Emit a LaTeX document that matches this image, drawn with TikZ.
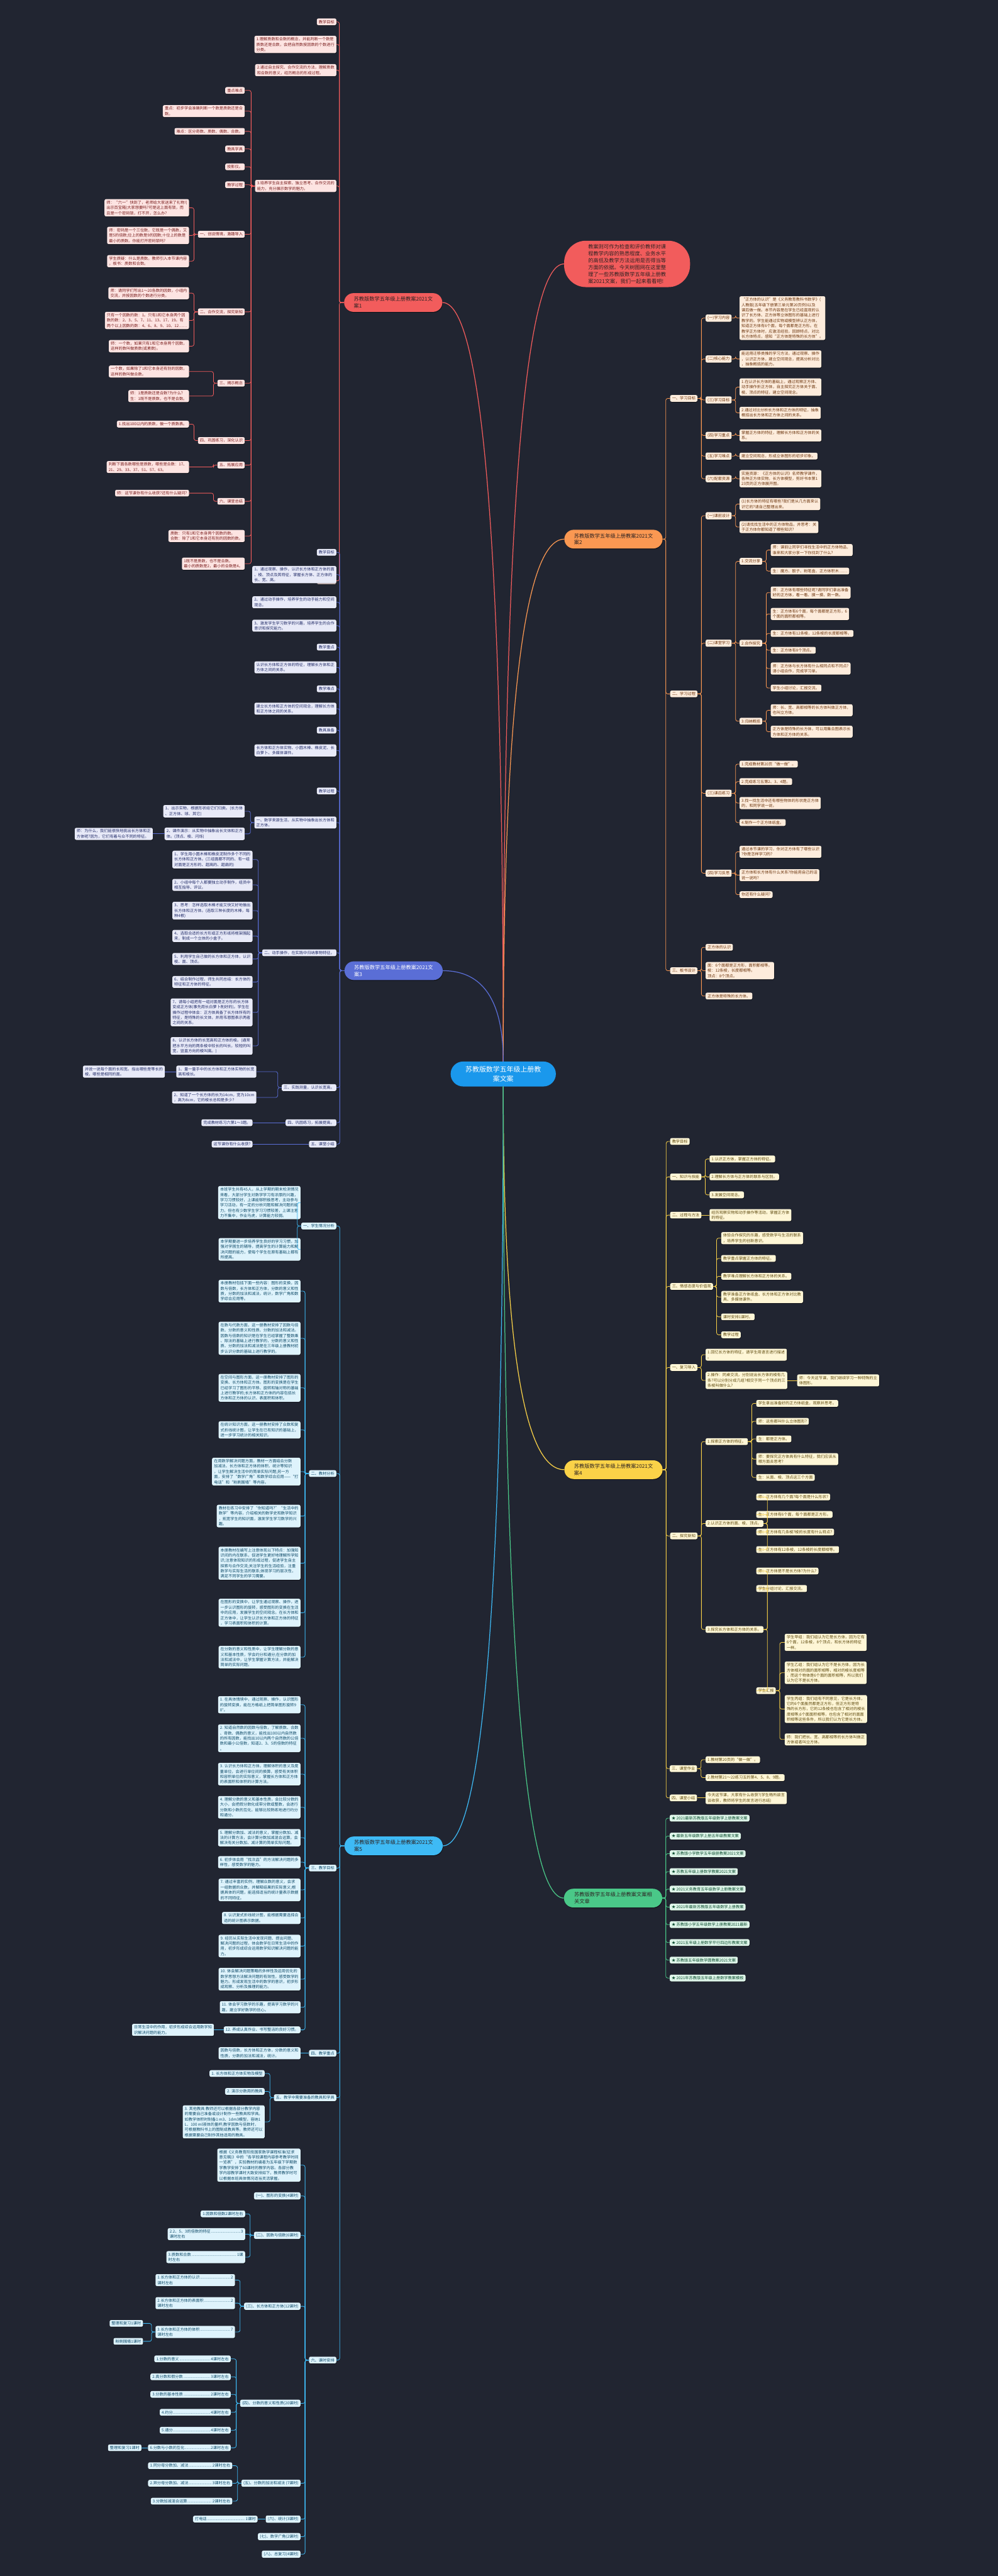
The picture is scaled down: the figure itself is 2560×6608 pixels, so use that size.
\documentclass[tikz,border=0pt]{standalone}
\usepackage{fontspec}
\setmainfont{Noto Sans CJK SC}
\usetikzlibrary{calc,shadows}
\definecolor{cbg}{RGB}{33,37,49}
\definecolor{croot}{RGB}{26,152,236}
\definecolor{cred}{RGB}{242,92,92}
\definecolor{cora}{RGB}{250,152,82}
\definecolor{cpur}{RGB}{90,110,214}
\definecolor{cyel}{RGB}{250,210,72}
\definecolor{cblu}{RGB}{62,186,245}
\definecolor{cgrn}{RGB}{74,200,136}
\definecolor{fred}{RGB}{253,228,226}
\definecolor{fora}{RGB}{253,236,220}
\definecolor{fpur}{RGB}{232,234,248}
\definecolor{fyel}{RGB}{254,246,214}
\definecolor{fblu}{RGB}{222,243,252}
\definecolor{fgrn}{RGB}{222,245,233}
\definecolor{tred}{RGB}{122,30,30}
\definecolor{tora}{RGB}{110,55,15}
\definecolor{tpur}{RGB}{35,45,105}
\definecolor{tyel}{RGB}{95,75,15}
\definecolor{tblu}{RGB}{15,75,105}
\definecolor{tgrn}{RGB}{15,80,50}
\definecolor{tdark}{RGB}{45,35,35}
\newcommand{\dl}[1]{\leaders\hbox to 2.6pt{\hss.\hss}\hskip#1pt\relax}

\begin{document}
\begin{tikzpicture}[x=1pt,y=-1pt,
  leaf/.style={rectangle,rounded corners=4pt,inner xsep=5pt,inner ysep=4pt,align=left,font=\fontsize{10}{13.5}\selectfont,
    drop shadow={shadow xshift=1pt,shadow yshift=-1.5pt,fill=black,opacity=.45}},
  lr/.style={leaf,anchor=east,fill=fred,text=tred},
  lo/.style={leaf,anchor=west,fill=fora,text=tora},
  lp/.style={leaf,anchor=east,fill=fpur,text=tpur},
  ly/.style={leaf,anchor=west,fill=fyel,text=tyel},
  lb/.style={leaf,anchor=east,fill=fblu,text=tblu},
  lg/.style={leaf,anchor=west,fill=fgrn,text=tgrn},
  brn/.style={rectangle,rounded corners=24pt,minimum width=252pt,minimum height=48pt,inner sep=0pt,align=left,text=tdark,font=\fontsize{13.3}{17.5}\selectfont,
    drop shadow={shadow xshift=1pt,shadow yshift=-2pt,fill=black,opacity=.45}},
  kr/.style={draw=cred,line width=1.3pt,rounded corners=5pt},
  ko/.style={draw=cora,line width=1.3pt,rounded corners=5pt},
  kp/.style={draw=cpur,line width=1.3pt,rounded corners=5pt},
  ky/.style={draw=cyel,line width=1.3pt,rounded corners=5pt},
  kb/.style={draw=cblu,line width=1.3pt,rounded corners=5pt},
  kg/.style={draw=cgrn,line width=1.3pt,rounded corners=5pt},
]
\fill[cbg] (0,0) rectangle (2560,6608);
\useasboundingbox (0,0) rectangle (2560,6608);

% --- centre and main branches ---
\node[fill=croot,text=white,rounded corners=32pt,minimum width=270pt,minimum height=64pt,align=center,font=\fontsize{17.6}{23.3}\selectfont] (root) at (1291,2755) {苏教版数学五年级上册教\\案文案};
\node[brn,fill=cred,anchor=east] (red) at (1135,776) {苏教版数学五年级上册教案2021文\\案1};
\node[brn,fill=cora,anchor=east] (ora) at (1700,1383) {苏教版数学五年级上册教案2021文\\案2};
\node[brn,fill=cpur,text=white,anchor=east] (pur) at (1136,2490) {苏教版数学五年级上册教案2021文\\案3};
\node[brn,fill=cyel,anchor=east] (yel) at (1700,3770) {苏教版数学五年级上册教案2021文\\案4};
\node[brn,fill=cblu,anchor=east] (blu) at (1136,4735) {苏教版数学五年级上册教案2021文\\案5};
\node[brn,fill=cgrn,anchor=east] (grn) at (1699,4869) {苏教版数学五年级上册教案文案相\\关文章};
\node[rectangle,rounded corners=56pt,minimum width=323pt,minimum height=119pt,inner sep=0pt,align=left,fill=cred,text=tdark,font=\fontsize{13.3}{17.8}\selectfont,anchor=west] (tip) at (1447,677) {教案则可作为检查和评价教师对课\\程教学内容的熟悉程度、业务水平\\的高低及教学方法运用是否得当等\\方面的依据。今天树图网在这里整\\理了一些苏教版数学五年级上册教\\案2021文案，我们一起来看看吧!};

\coordinate (cR) at (root.north |- red.east);
\coordinate (cT) at (root.north |- tip.west);
\coordinate (cO) at (root.north |- ora.west);
\coordinate (cP) at (root.north |- pur.east);
\coordinate (cY) at (root.south |- yel.west);
\coordinate (cB) at (root.south |- blu.east);
\coordinate (cG) at (root.south |- grn.west);
\draw[kr,line width=2pt] (root.north) .. controls ($(root.north)!.667!(cR)$) and ($(red.east)!.667!(cR)$) .. (red.east);
\draw[kr,line width=2pt] (root.north) .. controls ($(root.north)!.667!(cT)$) and ($(tip.west)!.667!(cT)$) .. (tip.west);
\draw[ko,line width=2pt] (root.north) .. controls ($(root.north)!.667!(cO)$) and ($(ora.west)!.667!(cO)$) .. (ora.west);
\draw[kp,line width=2pt] (root.north) .. controls ($(root.north)!.667!(cP)$) and ($(pur.east)!.667!(cP)$) .. (pur.east);
\draw[ky,line width=2pt] (root.south) .. controls ($(root.south)!.667!(cY)$) and ($(yel.west)!.667!(cY)$) .. (yel.west);
\draw[kb,line width=2pt] (root.south) .. controls ($(root.south)!.667!(cB)$) and ($(blu.east)!.667!(cB)$) .. (blu.east);
\draw[kg,line width=2pt] (root.south) .. controls ($(root.south)!.667!(cG)$) and ($(grn.west)!.667!(cG)$) .. (grn.west);

% --- 案1 ---
\node[lr] (r1) at (863,56) {教学目标};
\node[lr] (r2) at (863,114) {1.理解质数和合数的概念，并能判断一个数是\\质数还是合数，会把自然数按因数的个数进行\\分类。};
\node[lr] (r3) at (863,180) {2.通过自主探究、合作交流的方法，理解质数\\和合数的意义，经历概念的形成过程。};
\node[lr] (r4) at (863,477) {3.培养学生自主探索、独立思考、合作交流的\\能力，充分展示数学的魅力。};
\node[lr] (r5) at (863,1490) {板书设计};
\node[lr] (r4a) at (628,232) {重点难点};
\node[lr] (r4b) at (628,285) {重点：初步学会准确判断一个数是质数还是合\\数。};
\node[lr] (r4c) at (628,337) {难点：区分奇数、质数、偶数、合数。};
\node[lr] (r4d) at (628,382) {教具学具};
\node[lr] (r4e) at (628,428) {投影仪。};
\node[lr] (r4f) at (628,474) {教学过程};
\node[lr] (r4g) at (628,601) {一、创设情境，激趣导入};
\node[lr] (r4g1) at (485,533) {师：“六一”快到了，老师给大家送来了礼物!(\\出示百宝箱)大家想要吗?可是这上面有锁，而\\且是一个密码锁，打不开，怎么办?};
\node[lr] (r4g2) at (485,604) {师：密码是一个三位数，它既是一个偶数，又\\是5的倍数;位上的数是9的因数;十位上的数是\\最小的质数。你能打开密码锁吗?};
\node[lr] (r4g3) at (485,670) {学生质疑：什么是质数。教师引入本节课内容\\，板书：质数和合数。};
\node[lr] (r4h) at (628,800) {二、合作交流，探究新知};
\node[lr] (r4h1) at (485,752) {师：请同学们写出1～20各数的因数，小组内\\交流，并按因数的个数进行分类。};
\node[lr] (r4h2) at (485,822) {只有一个因数的数：1。只有1和它本身两个因\\数的数：2、3、5、7、11、13、17、19。有\\两个以上因数的数：4、6、8、9、10、12……};
\node[lr] (r4h3) at (485,888) {师：一个数，如果只有1和它本身两个因数，\\这样的数叫做质数(或素数)。};
\node[lr] (r4i) at (628,983) {三、揭示概念};
\node[lr] (r4i1) at (485,953) {一个数，如果除了1和它本身还有别的因数，\\这样的数叫做合数。};
\node[lr] (r4i2) at (485,1016) {师：1是质数还是合数?为什么?\\生：1既不是质数，也不是合数。};
\node[lr] (r4j) at (628,1130) {四、巩固练习，深化认识};
\node[lr] (r4j1) at (485,1088) {1.找出100以内的质数，做一个质数表。};
\node[lr] (r4k) at (628,1193) {五、拓展应用};
\node[lr] (r4k1) at (485,1198) {判断下面各数哪些是质数，哪些是合数：17、\\21、29、33、37、51、57、63。};
\node[lr] (r4l) at (628,1286) {六、课堂总结};
\node[lr] (r4l1) at (485,1265) {师：这节课你有什么收获?还有什么疑问?};
\node[lr] (r4m) at (628,1375) {质数：只有1和它本身两个因数的数。\\合数：除了1和它本身还有别的因数的数。};
\node[lr] (r4n) at (628,1446) {1既不是质数，也不是合数。\\最小的质数是2，最小的合数是4。};
\foreach \c in {r1,r2,r3,r4,r5} \draw[kr] (red.west) -- ++(-12,0) |- (\c.east);
\foreach \c in {r4a,r4b,r4c,r4d,r4e,r4f,r4g,r4h,r4i,r4j,r4k,r4l,r4m,r4n} \draw[kr] (r4.west) -- ++(-10,0) |- (\c.east);
\foreach \c in {r4g1,r4g2,r4g3} \draw[kr] (r4g.west) -- ++(-10,0) |- (\c.east);
\foreach \c in {r4h1,r4h2,r4h3} \draw[kr] (r4h.west) -- ++(-10,0) |- (\c.east);
\foreach \c in {r4i1,r4i2} \draw[kr] (r4i.west) -- ++(-10,0) |- (\c.east);
\foreach \p/\c in {r4j/r4j1,r4k/r4k1,r4l/r4l1} \draw[kr] (\p.west) -- ++(-10,0) |- (\c.east);

% --- 案2 ---
\node[lo] (o1) at (1719,1022) {一、学习目标};
\node[lo] (o1a) at (1810,816) {(一)学习内容};
\node[lo] (o1b) at (1810,921) {(二)核心能力};
\node[lo] (o1c) at (1810,1026) {(三)学习目标};
\node[lo] (o1d) at (1810,1117) {(四)学习重点};
\node[lo] (o1e) at (1810,1170) {(五)学习难点};
\node[lo] (o1f) at (1810,1228) {(六)配套资源};
\node[lo] (o1a1) at (1897,816) {“正方体的认识”是《义务教育教科书数学》(\\人教版)五年级下册第三单元第20页例3以及\\课后做一做。本节内容是在学生已经直观的认\\识了长方体、正方体等立体图形的基础上进行\\教学的。学生能通过实物或模型辨认正方体，\\知道正方体有6个面，每个面都是正方形。在\\教学正方体时，应激活经验，回顾特点，对比\\长方体特点，感知“正方体是特殊的长方体”。};
\node[lo] (o1b1) at (1897,921) {能运用迁移类推的学习方法，通过观察、操作\\，认识正方体，建立空间观念，提高分析对比\\，抽象概括的能力。};
\node[lo] (o1c1) at (1897,993) {1.在认识长方体的基础上，通过观察正方体、\\动手操作折正方体，自主探究正方体关于面、\\棱、顶点的特征，建立空间观念。};
\node[lo] (o1c2) at (1897,1059) {2.通过对比分析长方体和正方体的特征，抽象\\概括出长方体和正方体之间的关系。};
\node[lo] (o1d1) at (1897,1117) {掌握正方体的特征，理解长方体和正方体的关\\系。};
\node[lo] (o1e1) at (1897,1170) {建立空间观念，形成立体图形的初步印象。};
\node[lo] (o1f1) at (1897,1228) {实施资源：《正方体的认识》名师教学课件，\\各种正方体实物，长方体模型，剪好书本第1\\23页的正方体展开图。};
\node[lo] (o2) at (1719,1780) {二、学习过程};
\node[lo] (o2a) at (1810,1323) {(一)课前设计};
\node[lo] (o2a1) at (1897,1293) {(1)长方体的特征有哪些?我们是从几方面来认\\识它的?请自己整理出来。};
\node[lo] (o2a2) at (1897,1352) {(2)请找找生活中的正方体物品，并思考：关\\于正方体你都知道了哪些知识?};
\node[lo] (o2b) at (1810,1650) {(二)课堂学习};
\node[lo] (o2b1) at (1897,1440) {1.交流分享};
\node[lo] (o2b11) at (1977,1411) {师：课前让同学们寻找生活中的正方体物品，\\谁来和大家分享一下你找到了什么?};
\node[lo] (o2b12) at (1977,1465) {生：魔方、骰子、粉笔盒、正方体积木……};
\node[lo] (o2b2) at (1897,1650) {2.合作探究};
\node[lo] (o2b21) at (1977,1520) {师：正方体有哪些特征呢?请同学们拿出准备\\好的正方体，看一看、摸一摸、数一数。};
\node[lo] (o2b22) at (1977,1575) {生：正方体有6个面，每个面都是正方形，6\\个面的面积都相等。};
\node[lo] (o2b23) at (1977,1625) {生：正方体有12条棱，12条棱的长度都相等。};
\node[lo] (o2b24) at (1977,1668) {生：正方体有8个顶点。};
\node[lo] (o2b25) at (1977,1715) {师：正方体与长方体有什么相同点和不同点?\\请小组合作，完成学习单。};
\node[lo] (o2b26) at (1977,1765) {学生小组讨论，汇报交流。};
\node[lo] (o2b3) at (1897,1850) {3.归纳概括};
\node[lo] (o2b31) at (1977,1822) {师：长、宽、高都相等的长方体叫做正方体，\\也叫立方体。};
\node[lo] (o2b32) at (1977,1877) {正方体是特殊的长方体，可以用集合图表示长\\方体和正方体的关系。};
\node[lo] (o2c) at (1810,2035) {(三)课后练习};
\node[lo] (o2c1) at (1897,1960) {1.完成教材第20页“做一做”。};
\node[lo] (o2c2) at (1897,2005) {2.完成练习五第2、3、4题。};
\node[lo] (o2c3) at (1897,2060) {3.找一找生活中还有哪些物体的形状是正方体\\的，和同学说一说。};
\node[lo] (o2c4) at (1897,2110) {4.制作一个正方体纸盒。};
\node[lo] (o2d) at (1810,2240) {(四)学习反思};
\node[lo] (o2d1) at (1897,2185) {通过本节课的学习，你对正方体有了哪些认识\\?你是怎样学习的?};
\node[lo] (o2d2) at (1897,2245) {正方体和长方体有什么关系?你能用自己的话\\说一说吗?};
\node[lo] (o2d3) at (1897,2295) {你还有什么疑问?};
\node[lo] (o3) at (1719,2490) {三、板书设计};
\node[lo] (o3a) at (1810,2430) {正方体的认识};
\node[lo] (o3b) at (1810,2490) {面：6个面都是正方形，面积都相等。\\棱：12条棱，长度都相等。\\顶点：8个顶点。};
\node[lo] (o3c) at (1810,2555) {正方体是特殊的长方体。};
\foreach \c in {o1,o2,o3} \draw[ko] (ora.east) -- ++(8,0) |- (\c.west);
\foreach \c in {o1a,o1b,o1c,o1d,o1e,o1f} \draw[ko] (o1.east) -- ++(10,0) |- (\c.west);
\foreach \c in {o2a,o2b,o2c,o2d} \draw[ko] (o2.east) -- ++(10,0) |- (\c.west);
\foreach \c in {o3a,o3b,o3c} \draw[ko] (o3.east) -- ++(10,0) |- (\c.west);
\foreach \p/\c in {o1a/o1a1,o1b/o1b1,o1c/o1c1,o1c/o1c2,o1d/o1d1,o1e/o1e1,o1f/o1f1,o2a/o2a1,o2a/o2a2,o2b/o2b1,o2b/o2b2,o2b/o2b3,o2c/o2c1,o2c/o2c2,o2c/o2c3,o2c/o2c4,o2d/o2d1,o2d/o2d2,o2d/o2d3} \draw[ko] (\p.east) -- ++(10,0) |- (\c.west);
\foreach \p/\c in {o2b1/o2b11,o2b1/o2b12,o2b2/o2b21,o2b2/o2b22,o2b2/o2b23,o2b2/o2b24,o2b2/o2b25,o2b2/o2b26,o2b3/o2b31,o2b3/o2b32} \draw[ko] (\p.east) -- ++(10,0) |- (\c.west);

% --- 案3 ---
\node[lp] (p0a) at (863,1417) {教学目标};
\node[lp] (p0b) at (863,1474) {1、通过观察、操作，认识长方体和正方体的面\\、棱、顶点及其特征，掌握长方体、正方体的\\长、宽、高。};
\node[lp] (p0c) at (863,1545) {2、通过动手操作，培养学生的动手能力和空间\\观念。};
\node[lp] (p0d) at (863,1605) {3、激发学生学习数学的兴趣，培养学生的合作\\意识和探究能力。};
\node[lp] (p0e) at (863,1660) {教学重点};
\node[lp] (p0f) at (863,1712) {认识长方体和正方体的特征，理解长方体和正\\方体之间的关系。};
\node[lp] (p0g) at (863,1767) {教学难点};
\node[lp] (p0h) at (863,1818) {建立长方体和正方体的空间观念，理解长方体\\和正方体之间的关系。};
\node[lp] (p0i) at (863,1873) {教具准备};
\node[lp] (p0j) at (863,1925) {长方体和正方体实物、小圆木棒、橡皮泥、长\\白萝卜、多媒体课件。};
\node[lp] (p1) at (863,2029) {教学过程};
\node[lp] (p2) at (863,2110) {一、数学来源生活，从实物中抽象出长方体和\\正方体。};
\node[lp] (p2a) at (628,2081) {1、出示实物，根据形状给它们归类。(长方体\\、正方体、球、其它)};
\node[lp] (p2b) at (628,2139) {2、课件演示：从实物中抽象出长文体和正方\\体。(顶点、棱、闪烁)};
\node[lp] (p2b1) at (392,2139) {师：为什么，我们能很快地挑出长方体和正\\方体呢?因为，它们有着与众不同的特征。};
\node[lp] (p3) at (863,2444) {二、动手操作，在实践中归纳事物特征。};
\node[lp] (p3a) at (648,2205) {1、学生用小圆木棒和橡皮泥制作多个不同的\\长方体和正方体。(三组面都不同的、有一组\\对面是正方形的、超高的、超扁的)};
\node[lp] (p3b) at (648,2270) {2、小组中每个人都要独立动手制作，组员中\\相互指导、评议。};
\node[lp] (p3c) at (648,2336) {3、思考：怎样选取木棒才能又快又好地做出\\长方体和正方体。(选取三种长度的木棒，每\\种4根)};
\node[lp] (p3d) at (648,2401) {4、选取合适的长方形或正方形纸将框架围起\\来，制成一个立体的小盒子。};
\node[lp] (p3e) at (648,2460) {5、利用学生自己做的长方体和正方体，认识\\棱、面、顶点。};
\node[lp] (p3f) at (648,2519) {6、结合制作过程，师生共同总结：长方体的\\特征和正方体的特征。};
\node[lp] (p3g) at (648,2597) {7、请每小组把有一组对面是正方形的长方体\\变成正方体(事先用长白萝卜削好的)。学生在\\操作过程中体会：正方体具备了长方体所有的\\特征，是特殊的长文体，并用韦恩图表示两者\\之间的关系。};
\node[lp] (p3h) at (648,2683) {8、认识长方体的长宽高和正方体的棱。(通常\\把水平方向的两条棱中较长的叫长，较短的叫\\宽，竖直方向的棱叫高。)};
\node[lp] (p4) at (863,2790) {三、实践测量，认识长宽高。};
\node[lp] (p4a) at (658,2749) {1、量一量手中的长方体和正方体实物的长宽\\高和棱长。};
\node[lp] (p4a1) at (423,2749) {并说一说每个面的长和宽。指出哪些是等长的\\棱，哪些是相同的面。};
\node[lp] (p4b) at (658,2815) {2、知道了一个长方体的长为14cm，宽为10cm\\，高为8cm，它的棱长总和是多少?};
\node[lp] (p5) at (863,2880) {四、巩固练习，拓展提高。};
\node[lp] (p5a) at (648,2880) {完成教材练习六第1～3题。};
\node[lp] (p6) at (863,2935) {五、课堂小结};
\node[lp] (p6a) at (648,2935) {这节课你有什么收获?};
\foreach \c in {p0a,p0b,p0c,p0d,p0e,p0f,p0g,p0h,p0i,p0j,p1,p2,p3,p4,p5,p6} \draw[kp] (pur.west) -- ++(-12,0) |- (\c.east);
\foreach \c in {p2a,p2b} \draw[kp] (p2.west) -- ++(-10,0) |- (\c.east);
\draw[kp] (p2b.west) -- (p2b1.east);
\foreach \c in {p3a,p3b,p3c,p3d,p3e,p3f,p3g,p3h} \draw[kp] (p3.west) -- ++(-10,0) |- (\c.east);
\foreach \c in {p4a,p4b} \draw[kp] (p4.west) -- ++(-10,0) |- (\c.east);
\draw[kp] (p4a.west) -- (p4a1.east);
\draw[kp] (p5.west) -- (p5a.east);
\draw[kp] (p6.west) -- (p6a.east);

% --- 案4 ---
\node[ly] (y1) at (1719,2928) {教学目标};
\node[ly] (y2) at (1719,3019) {一、知识与技能};
\node[ly] (y2a) at (1820,2973) {1.认识正方体，掌握正方体的特征。};
\node[ly] (y2b) at (1820,3019) {2.理解长方体与正方体的联系与区别。};
\node[ly] (y2c) at (1820,3065) {3.发展空间观念。};
\node[ly] (y3) at (1719,3117) {二、过程与方法};
\node[ly] (y3a) at (1820,3117) {经历观察实物和动手操作等活动，掌握正方体\\的特征。};
\node[ly] (y4) at (1719,3300) {三、情感态度与价值观};
\node[ly] (y4a) at (1850,3176) {体验合作探究的乐趣，感受数学与生活的联系\\，培养学生的创新意识。};
\node[ly] (y4b) at (1850,3228) {教学重点掌握正方体的特征。};
\node[ly] (y4c) at (1850,3274) {教学难点理解长方体和正方体的关系。};
\node[ly] (y4d) at (1850,3327) {教学准备正方体纸盒、长方体和正方体对比教\\具、多媒体课件。};
\node[ly] (y4e) at (1850,3378) {课时安排1课时。};
\node[ly] (y4f) at (1850,3424) {教学过程};
\node[ly] (y5) at (1719,3508) {一、复习导入};
\node[ly] (y5a) at (1810,3475) {1.回忆长方体的特征，请学生用语言进行描述\\。};
\node[ly] (y5b) at (1810,3541) {2.操作：同桌交流，分别说出长方体的棱有几\\条?可以分别分成几组?相交于同一个顶点的三\\条棱叫做什么?};
\node[ly] (y5b1) at (2045,3541) {师：今天这节课，我们继续学习一种特殊的立\\体图形。};
\node[ly] (y6) at (1719,3940) {二、探究新知};
\node[ly] (y6a) at (1810,3698) {1.探索正方体的特征。};
\node[ly] (y6a1) at (1940,3600) {学生拿出准备好的正方体纸盒，观察并思考。};
\node[ly] (y6a2) at (1940,3646) {师：这些都叫什么立体图形?};
\node[ly] (y6a3) at (1940,3691) {生：都是正方体。};
\node[ly] (y6a4) at (1940,3743) {师：要探究正方体具有什么特征，我们应该从\\哪方面去思考?};
\node[ly] (y6a5) at (1940,3790) {生：从面、棱、顶点这三个方面};
\node[ly] (y6b) at (1810,3908) {2.认识正方体的面、棱、顶点。};
\node[ly] (y6b1) at (1940,3840) {师：正方体有几个面?每个面是什么形状?};
\node[ly] (y6b2) at (1940,3885) {生：正方体有6个面，每个面都是正方形。};
\node[ly] (y6b3) at (1940,3930) {师：正方体有几条棱?棱的长度有什么特点?};
\node[ly] (y6b4) at (1940,3975) {生：正方体有12条棱，12条棱的长度都相等。};
\node[ly] (y6c) at (1810,4180) {3.探究长方体和正方体的关系。};
\node[ly] (y6c1) at (1940,4030) {师：正方体是不是长方体?为什么?};
\node[ly] (y6c2) at (1940,4075) {学生分组讨论，汇报交流。};
\node[ly] (y6c3) at (1940,4337) {学生汇报};
\node[ly] (y6c31) at (2013,4213) {学生甲组：我们组认为它是长方体，因为它有\\6个面，12条棱，8个顶点，和长方体的特征\\一样。};
\node[ly] (y6c32) at (2013,4291) {学生乙组：我们组认为它不是长方体，因为长\\方体相对的面的面积相等，相对的棱长度相等\\，而这个物体是6个面的面积相等，所以我们\\认为它不是长方体。};
\node[ly] (y6c33) at (2013,4384) {学生丙组：我们组有不同意见，它是长方体，\\它的6个面虽然都是正方形，但正方形是特\\殊的长方形，它的12条棱也包含了相对的棱长\\度相等;6个面面积相等，也包含了相对的面面\\积相等这些条件，所以我们认为它是长方体。};
\node[ly] (y6c34) at (2013,4462) {师：我们把长、宽、高都相等的长方体叫做正\\方体或者叫立方体。};
\node[ly] (y7) at (1718,4537) {三、课堂作业};
\node[ly] (y7a) at (1810,4514) {1.教材第20页的“做一做”。};
\node[ly] (y7b) at (1810,4560) {2.教材第21～22练习五的第4、5、8、9题。};
\node[ly] (y8) at (1718,4612) {四、课堂小结};
\node[ly] (y8a) at (1810,4612) {今天这节课，大家有什么收获?(学生畅所欲言\\谈收获，教师将学生的发言进行总结)};
\foreach \c in {y1,y2,y3,y4,y5,y6,y7,y8} \draw[ky] (yel.east) -- ++(9,0) |- (\c.west);
\foreach \c in {y2a,y2b,y2c} \draw[ky] (y2.east) -- ++(10,0) |- (\c.west);
\draw[ky] (y3.east) -- (y3a.west);
\foreach \c in {y4a,y4b,y4c,y4d,y4e,y4f} \draw[ky] (y4.east) -- ++(9,0) |- (\c.west);
\foreach \c in {y5a,y5b} \draw[ky] (y5.east) -- ++(10,0) |- (\c.west);
\draw[ky] (y5b.east) -- (y5b1.west);
\foreach \c in {y6a,y6b,y6c} \draw[ky] (y6.east) -- ++(10,0) |- (\c.west);
\foreach \c in {y6a1,y6a2,y6a3,y6a4,y6a5} \draw[ky] (y6a.east) -- ++(10,0) |- (\c.west);
\foreach \c in {y6b1,y6b2,y6b3,y6b4} \draw[ky] (y6b.east) -- ++(10,0) |- (\c.west);
\foreach \c in {y6c1,y6c2,y6c3} \draw[ky] (y6c.east) -- ++(10,0) |- (\c.west);
\foreach \c in {y6c31,y6c32,y6c33,y6c34} \draw[ky] (y6c3.east) -- ++(10,0) |- (\c.west);
\foreach \c in {y7a,y7b} \draw[ky] (y7.east) -- ++(10,0) |- (\c.west);
\draw[ky] (y8.east) -- (y8a.west);

% --- 案5 ---
\node[lb] (b1) at (863,3145) {一、学生情况分析};
\node[lb] (b1a) at (771,3085) {本班学生共有45人，从上学期的期末检测情况\\来看，大部分学生对数学学习有浓厚的兴趣，\\学习习惯较好，上课能够积极思考，主动参与\\学习活动，有一定的分析问题和解决问题的能\\力，但也有少数学生学习习惯较差，上课注意\\力不集中，作业马虎，计算能力较弱。};
\node[lb] (b1b) at (771,3205) {本学期要进一步培养学生良好的学习习惯，加\\强对学困生的辅导，提高学生的计算能力和解\\决问题的能力，使每个学生在原有基础上都有\\所提高。};
\node[lb] (b2) at (863,3780) {二、教材分析};
\node[lb] (b2a) at (771,3312) {本册教材包括下面一些内容：图形的变换，因\\数与倍数，长方体和正方体，分数的意义和性\\质，分数的加法和减法，统计，数学广角和数\\学综合应用等。};
\node[lb] (b2b) at (771,3433) {在数与代数方面，这一册教材安排了因数与倍\\数、分数的意义和性质、分数的加法和减法。\\因数与倍数的知识是在学生已经掌握了整数乘\\、除法的基础上进行教学的，分数的意义和性\\质、分数的加法和减法是在三年级上册教材初\\步认识分数的基础上进行教学的。};
\node[lb] (b2c) at (771,3560) {在空间与图形方面，这一册教材安排了图形的\\变换、长方体和正方体。图形的变换是在学生\\已经学习了图形的平移、旋转和轴对称的基础\\上进行教学的;长方体和正方体的内容包括长\\方体和正方体的认识、表面积和体积。};
\node[lb] (b2d) at (771,3668) {在统计知识方面，这一册教材安排了众数和复\\式折线统计图，让学生在已有知识的基础上，\\进一步学习统计的相关知识。};
\node[lb] (b2e) at (771,3775) {在用数学解决问题方面，教材一方面结合分数\\加减法、长方体和正方体的体积、统计等知识\\，让学生解决生活中的简单实际问题;另一方\\面，安排了“数学广角”和数学综合应用——“打\\电话”和“粉刷围墙”等内容。};
\node[lb] (b2f) at (771,3889) {教材在练习中安排了“你知道吗?”“生活中的\\数学”等内容，介绍相关的数学史和数学知识\\，拓宽学生的知识面，激发学生学习数学的兴\\趣。};
\node[lb] (b2g) at (771,4010) {本册教材在编写上注意体现以下特点：加强知\\识间的内在联系，促进学生更好地理解所学知\\识;注意体现知识的形成过程，促进学生自主\\探索与合作交流;关注学生的生活经验，注重\\数学与实际生活的联系;体现学习的层次性，\\满足不同学生的学习需要。};
\node[lb] (b2h) at (771,4137) {在图形的变换中，让学生通过观察、操作，进\\一步认识图形的旋转，感受图形的变换在生活\\中的应用，发展学生的空间观念。在长方体和\\正方体中，让学生认识长方体和正方体的特征\\，学习表面积和体积的计算。};
\node[lb] (b2i) at (771,4251) {在分数的意义和性质中，让学生理解分数的意\\义和基本性质，学会约分和通分;在分数的加\\法和减法中，让学生掌握计算方法，并能解决\\简单的实际问题。};
\node[lb] (b3) at (863,4792) {三、教学目标};
\node[lb] (b3a) at (771,4373) {1. 在具体情境中，通过观察、操作，认识图形\\的旋转变换，能在方格纸上把简单图形旋转9\\0°。};
\node[lb] (b3b) at (771,4459) {2. 知道自然数的因数与倍数，了解质数、合数\\、奇数、偶数的意义，能找出100以内自然数\\的所有因数，能找出10以内两个自然数的公倍\\数和最小公倍数，知道2、3、5的倍数的特征\\。};
\node[lb] (b3c) at (771,4551) {3. 认识长方体和正方体，理解体积的意义及度\\量单位，会进行单位间的换算，感受有关体积\\和容积单位的实际意义，掌握长方体和正方体\\的表面积和体积的计算方法。};
\node[lb] (b3d) at (771,4636) {4. 理解分数的意义和基本性质，会比较分数的\\大小，会把假分数化成带分数或整数，会进行\\分数和小数的互化，能够比较熟练地进行约分\\和通分。};
\node[lb] (b3e) at (771,4714) {5. 理解分数加、减法的意义，掌握分数加、减\\法的计算方法，会计算分数加减混合运算，会\\解决有关分数加、减计算的简单实际问题。};
\node[lb] (b3f) at (771,4777) {6. 初步体会用“找次品”的方法解决问题的多\\样性，感受数学的魅力。};
\node[lb] (b3g) at (771,4848) {7. 通过丰富的实例，理解众数的意义，会求\\一组数据的众数，并解释结果的实际意义;根\\据具体的问题，能选择适当的统计量表示数据\\的不同特征。};
\node[lb] (b3h) at (771,4920) {8. 认识复式折线统计图，能根据需要选择合\\适的统计图表示数据。};
\node[lb] (b3i) at (771,4992) {9. 经历从实际生活中发现问题、提出问题、\\解决问题的过程，体会数学在日常生活中的作\\用，初步形成综合运用数学知识解决问题的能\\力。};
\node[lb] (b3j) at (771,5077) {10. 体会解决问题策略的多样性及运用优化的\\数学思想方法解决问题的有效性，感受数学的\\魅力。形成发现生活中的数学的意识，初步形\\成观察、分析及推理的能力。};
\node[lb] (b3k) at (771,5149) {11. 体会学习数学的乐趣，提高学习数学的兴\\趣，建立学好数学的信心。};
\node[lb] (b3l) at (771,5207) {12. 养成认真作业、书写整洁的良好习惯。};
\node[lb] (b3l1) at (549,5207) {日常生活中的作用，初步形成综合运用数学知\\识解决问题的能力。};
\node[lb] (b4) at (863,5267) {四、教学重点};
\node[lb] (b4a) at (771,5267) {因数与倍数，长方体和正方体，分数的意义和\\性质，分数的加法和减法，统计。};
\node[lb] (b5) at (863,5381) {五、教学中需要准备的教具和学具};
\node[lb] (b5a) at (679,5319) {1. 长方体和正方体实物及模型};
\node[lb] (b5b) at (679,5365) {2. 演示分数用的教具};
\node[lb] (b5c) at (679,5443) {3. 其他教具 教师还可以根据各部分教学内容\\的需要自己准备或设计制作一些教具和学具。\\如教学体积时制备1 m3、1dm3模型，容纳1\\ L、100 ml液体的量杯;教学因数与倍数时，\\可根据教科书上的图制成教具等。教师还可以\\根据需要自己制作其他适用的教具。};
\node[lb] (b6) at (863,6054) {六、课时安排};
\node[lb] (b6a) at (771,5554) {根据《义务教育阶段国家数学课程标准(征求\\意见稿)》中的“各学段课程内容参考教学时间\\一览表”，实验教材的编者为五年级下学期数\\学教学安排了60课时的教学内容。各部分教\\学内容教学课时大致安排如下，教师教学时可\\以根据本班具体情况适当灵活掌握。};
\node[lb] (b6b) at (771,5633) {(一)、图形的变换(4课时)};
\node[lb] (b6c) at (771,5734) {(二)、因数与倍数(6课时)};
\node[lb] (b6c1) at (629,5679) {1.因数和倍数2课时左右};
\node[lb] (b6c2) at (629,5731) {2.2、5、3的倍数的特征\dl{78}3\\课时左右};
\node[lb] (b6c3) at (629,5790) {3.质数和合数\dl{118}1课\\时左右};
\node[lb] (b6d) at (771,5916) {(三)、长方体和正方体(12课时)};
\node[lb] (b6d1) at (603,5849) {1.长方体和正方体的认识\dl{80}2\\课时左右};
\node[lb] (b6d2) at (603,5908) {2.长方体和正方体的表面积\dl{70}2\\课时左右};
\node[lb] (b6d3) at (603,5982) {3.长方体和正方体的体积\dl{80}7\\课时左右};
\node[lb] (b6d31) at (367,5960) {整理和复习1课时};
\node[lb] (b6d32) at (367,6006) {粉刷围墙1课时};
\node[lb] (b6e) at (771,6165) {(四)、分数的意义和性质(20课时)};
\node[lb] (b6e1) at (592,6051) {1.分数的意义\dl{82}4课时左右};
\node[lb] (b6e2) at (592,6097) {2.真分数和假分数\dl{72}3课时左右};
\node[lb] (b6e3) at (592,6142) {3.分数的基本性质\dl{72}2课时左右};
\node[lb] (b6e4) at (592,6188) {4.约分\dl{98}4课时左右};
\node[lb] (b6e5) at (592,6234) {5.通分\dl{98}4课时左右};
\node[lb] (b6e6) at (592,6279) {6.分数与小数的互化\dl{68}2课时左右};
\node[lb] (b6e61) at (363,6279) {整理和复习1课时};
\node[lb] (b6f) at (771,6370) {(五)、分数的加法和减法 (7课时)};
\node[lb] (b6f1) at (596,6325) {1.同分母分数加、减法\dl{62}2课时左右};
\node[lb] (b6f2) at (596,6370) {2.异分母分数加、减法\dl{62}3课时左右};
\node[lb] (b6f3) at (596,6416) {3.分数加减混合运算\dl{65}2课时左右};
\node[lb] (b6g) at (771,6462) {(六)、统计(3课时)};
\node[lb] (b6g1) at (661,6462) {打电话\dl{100}1课时};
\node[lb] (b6h) at (771,6507) {(七)、数学广角(2课时)};
\node[lb] (b6i) at (771,6552) {(八)、总复习(4课时)};
\foreach \c in {b1,b2,b3,b4,b5,b6} \draw[kb] (blu.west) -- ++(-12,0) |- (\c.east);
\foreach \c in {b1a,b1b} \draw[kb] (b1.west) -- ++(-10,0) |- (\c.east);
\foreach \c in {b2a,b2b,b2c,b2d,b2e,b2f,b2g,b2h,b2i} \draw[kb] (b2.west) -- ++(-10,0) |- (\c.east);
\foreach \c in {b3a,b3b,b3c,b3d,b3e,b3f,b3g,b3h,b3i,b3j,b3k,b3l} \draw[kb] (b3.west) -- ++(-10,0) |- (\c.east);
\draw[kb] (b3l.west) -- (b3l1.east);
\draw[kb] (b4.west) -- (b4a.east);
\foreach \c in {b5a,b5b,b5c} \draw[kb] (b5.west) -- ++(-10,0) |- (\c.east);
\foreach \c in {b6a,b6b,b6c,b6d,b6e,b6f,b6g,b6h,b6i} \draw[kb] (b6.west) -- ++(-10,0) |- (\c.east);
\foreach \c in {b6c1,b6c2,b6c3} \draw[kb] (b6c.west) -- ++(-10,0) |- (\c.east);
\foreach \c in {b6d1,b6d2,b6d3} \draw[kb] (b6d.west) -- ++(-10,0) |- (\c.east);
\foreach \c in {b6d31,b6d32} \draw[kb] (b6d3.west) -- ++(-10,0) |- (\c.east);
\foreach \c in {b6e1,b6e2,b6e3,b6e4,b6e5,b6e6} \draw[kb] (b6e.west) -- ++(-10,0) |- (\c.east);
\draw[kb] (b6e6.west) -- (b6e61.east);
\foreach \c in {b6f1,b6f2,b6f3} \draw[kb] (b6f.west) -- ++(-10,0) |- (\c.east);
\draw[kb] (b6g.west) -- (b6g1.east);

% --- related articles ---
\node[lg] (g0) at (1718,4664) {★ 2021最新苏教版五年级数学上册教案文案};
\node[lg] (g1) at (1718,4710) {★ 最新五年级数学上册五年级教案文案};
\node[lg] (g2) at (1718,4755) {★ 苏教版小学数学五年级册教案2021文案};
\node[lg] (g3) at (1718,4801) {★ 苏教五年级上册数学教案2021文案};
\node[lg] (g4) at (1718,4846) {★ 2021义务教育五年级数学上册教案文案};
\node[lg] (g5) at (1718,4892) {★ 2021年最新苏教版五年级数学上册教案};
\node[lg] (g6) at (1718,4937) {★ 苏教版小学五年级数学上册教案2021最新};
\node[lg] (g7) at (1718,4983) {★ 2021五年级上册数学平行四边形教案文案};
\node[lg] (g8) at (1718,5028) {★ 苏教版五年级数学圆教案2021文案};
\node[lg] (g9) at (1718,5074) {★ 2021年苏教版五年级上册数学教案模板};
\foreach \c in {g0,g1,g2,g3,g4,g5,g6,g7,g8,g9} \draw[kg] (grn.east) -- ++(9,0) |- (\c.west);
\end{tikzpicture}
\end{document}
